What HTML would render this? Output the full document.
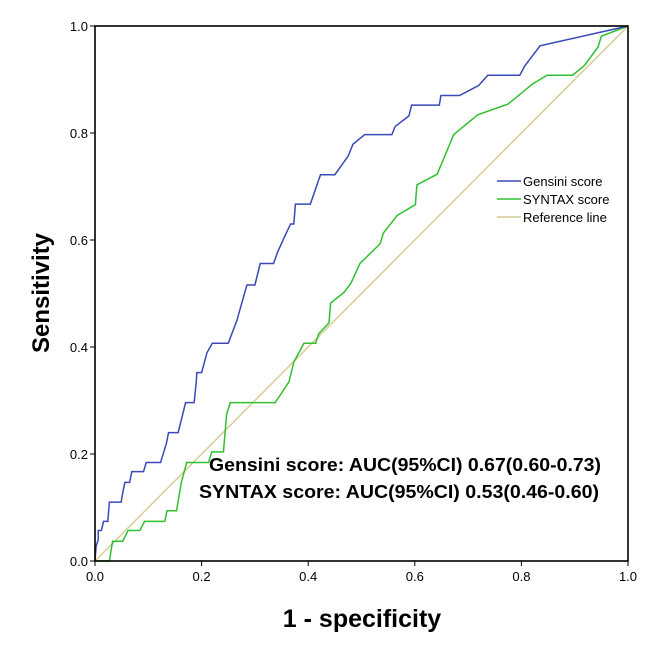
<!DOCTYPE html>
<html><head><meta charset="utf-8"><style>
body{margin:0;background:#fff;}
svg{display:block;font-family:"Liberation Sans",Arial,sans-serif;}
</style></head><body>
<svg id="chart" width="669" height="672" viewBox="0 0 669 672">
<rect width="669" height="672" fill="#fff"/>
<g id="grid"></g>
<g id="series"></g>
<rect x="95" y="26" width="533" height="535" fill="none" stroke="#000" stroke-width="1.6"/>
<g id="ticks"></g>
<text transform="translate(49,293) rotate(-90)" text-anchor="middle" font-size="24" font-weight="bold">Sensitivity</text>
<text x="362" y="627" text-anchor="middle" font-size="25" font-weight="bold">1 - specificity</text>
<g>
<line x1="497" y1="181" x2="521" y2="181" stroke="#3a48b8" stroke-width="1.5"/>
<text x="523" y="186" font-size="13">Gensini score</text>
<line x1="497" y1="199" x2="521" y2="199" stroke="#2fc02f" stroke-width="1.5"/>
<text x="523" y="204" font-size="13">SYNTAX score</text>
<line x1="497" y1="217" x2="521" y2="217" stroke="#d8cc96" stroke-width="1.5"/>
<text x="523" y="222" font-size="13">Reference line</text>
</g>
<text x="209" y="471" font-size="18" font-weight="bold" textLength="392" lengthAdjust="spacingAndGlyphs">Gensini score: AUC(95%CI) 0.67(0.60-0.73)</text>
<text x="199" y="498" font-size="18" font-weight="bold" textLength="400" lengthAdjust="spacingAndGlyphs">SYNTAX score: AUC(95%CI) 0.53(0.46-0.60)</text>
</svg>
<script>
const xTicks=[0,0.2,0.4,0.6,0.8,1.0];
const yTicks=[0,0.2,0.4,0.6,0.8,1.0];
const gensiniFpr=[0,0.002,0.006,0.006,0.012,0.016,0.024,0.027,0.049,0.052,0.056,0.065,0.069,0.091,0.096,0.123,0.134,0.138,0.156,0.17,0.186,0.19,0.191,0.2,0.21,0.22,0.25,0.266,0.285,0.30,0.31,0.335,0.342,0.357,0.367,0.373,0.376,0.404,0.423,0.45,0.475,0.484,0.506,0.557,0.563,0.589,0.594,0.646,0.649,0.684,0.72,0.737,0.797,0.806,0.835,1.0];
const gensiniTpr=[0,0.027,0.04,0.057,0.057,0.074,0.074,0.11,0.11,0.127,0.147,0.147,0.167,0.167,0.184,0.184,0.22,0.24,0.24,0.296,0.296,0.335,0.352,0.352,0.389,0.407,0.407,0.449,0.516,0.516,0.556,0.556,0.576,0.609,0.63,0.63,0.667,0.667,0.722,0.722,0.757,0.779,0.797,0.797,0.812,0.832,0.852,0.852,0.870,0.870,0.889,0.908,0.908,0.925,0.963,1.0];
const syntaxFpr=[0,0.027,0.033,0.052,0.062,0.084,0.093,0.131,0.135,0.153,0.162,0.172,0.213,0.219,0.241,0.247,0.254,0.338,0.364,0.373,0.392,0.414,0.42,0.439,0.442,0.467,0.48,0.497,0.535,0.541,0.567,0.601,0.604,0.642,0.673,0.718,0.775,0.82,0.848,0.896,0.918,0.944,0.95,1.0];
const syntaxTpr=[0,0,0.037,0.037,0.057,0.057,0.074,0.074,0.094,0.094,0.147,0.184,0.184,0.204,0.204,0.275,0.296,0.296,0.335,0.372,0.407,0.407,0.425,0.445,0.482,0.502,0.519,0.556,0.593,0.613,0.646,0.666,0.703,0.723,0.797,0.834,0.854,0.891,0.908,0.908,0.926,0.961,0.981,1.0];
const refX=[0,1];
const refY=[0,1];
const NS='http://www.w3.org/2000/svg';
const X0=95,X1=628,Y0=561,Y1=26;
function sx(v){return X0+v*(X1-X0);}
function sy(v){return Y0-v*(Y0-Y1);}
function poly(xs,ys,color,name){
  const p=document.createElementNS(NS,'polyline');
  p.setAttribute('points',xs.map((x,i)=>sx(x)+','+sy(ys[i])).join(' '));
  p.setAttribute('fill','none');p.setAttribute('stroke',color);p.setAttribute('stroke-width','1.5');
  
  
  document.getElementById('series').appendChild(p);
}
poly(refX,refY,'#d8cc96','reference-line');
poly(syntaxFpr,syntaxTpr,'#2fc02f','syntax-curve');
poly(gensiniFpr,gensiniTpr,'#3a48b8','gensini-curve');
const tg=document.getElementById('ticks');
xTicks.forEach(t=>{
  const l=document.createElementNS(NS,'line');
  l.setAttribute('x1',sx(t));l.setAttribute('x2',sx(t));l.setAttribute('y1',Y0);l.setAttribute('y2',Y0+5);l.setAttribute('stroke','#000');
  
  
  tg.appendChild(l);
  const tx=document.createElementNS(NS,'text');
  tx.setAttribute('x',sx(t));tx.setAttribute('y',Y0+20);tx.setAttribute('text-anchor','middle');tx.setAttribute('font-size','13');
  tx.textContent=t.toFixed(1);
  
  
  tg.appendChild(tx);
});
yTicks.forEach(t=>{
  const l=document.createElementNS(NS,'line');
  l.setAttribute('x1',X0-5);l.setAttribute('x2',X0);l.setAttribute('y1',sy(t));l.setAttribute('y2',sy(t));l.setAttribute('stroke','#000');
  
  
  tg.appendChild(l);
  const tx=document.createElementNS(NS,'text');
  tx.setAttribute('x',X0-7);tx.setAttribute('y',sy(t)+5);tx.setAttribute('text-anchor','end');tx.setAttribute('font-size','13');
  tx.textContent=t.toFixed(1);
  
  
  tg.appendChild(tx);
});
</script>
</body></html>
